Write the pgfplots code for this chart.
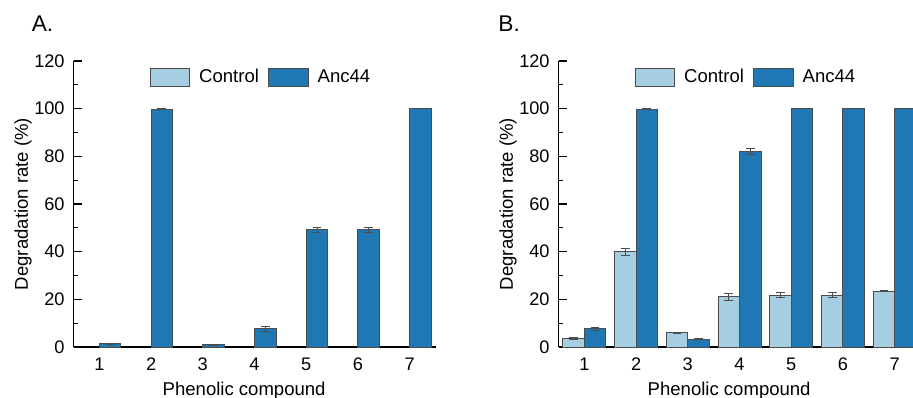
\documentclass[border=0pt]{standalone}
\usepackage{fontspec}
\setmainfont{Liberation Sans}
\usepackage{pgfplots}
\pgfplotsset{compat=1.18}
\definecolor{ctrl}{HTML}{A6CEE3}
\definecolor{anc}{HTML}{1F77B4}
\pgfplotsset{
  panel/.style={
    scale only axis, width=199.1pt, height=157.3pt,
    xmin=0.5, xmax=7.5, ymin=0, ymax=120,
    axis x line*=bottom, axis y line*=left,
    axis line style={black, line width=0.7pt},
    xtick={1,...,7}, xtick style={draw=none},
    ytick={0,20,...,120}, minor y tick num=1,
    major tick length=4.4pt, minor tick length=2.2pt,
    ytick style={black, line width=0.6pt}, tick align=inside,
    font=\fontsize{10.2}{12}\selectfont,
    tick label style={font=\fontsize{10}{11}\selectfont},
    /pgf/number format/assume math mode=true,
    xticklabel style={anchor=north, inner sep=0pt, yshift=-1.4pt},
    yticklabel style={anchor=east, inner sep=0pt, xshift=-4.7pt},
    every axis y label/.style={at={(axis description cs:-0.1396,0.5)}, rotate=90, anchor=center},
    every axis x label/.style={at={(axis description cs:0.4714,-0.168)}, anchor=base},
    xlabel={Phenolic compound},
    ylabel={Degradation rate (\%)},
    ybar, bar width=0.416,
    legend image code/.code={\draw[##1] (0pt,-4.95pt) rectangle (21.8pt,4.95pt);},
    legend style={at={(axis description cs:0.52,0.944)}, anchor=center, draw=none, fill=none,
      legend columns=2, column sep=3pt, inner sep=0pt,
      font=\fontsize{10.2}{12}\selectfont},
  },
  ctrlbar/.style={fill=ctrl, draw=black!70, line width=0.5pt, bar shift=-0.208,
    error bars/.cd, y dir=both, y explicit,
    error bar style={black!70, line width=0.5pt},
    error mark options={rotate=90, mark size=2.4pt, black!70, line width=0.5pt}},
  ancbar/.style={fill=anc, draw=black!70, line width=0.5pt, bar shift=0.208,
    error bars/.cd, y dir=both, y explicit,
    error bar style={black!70, line width=0.5pt},
    error mark options={rotate=90, mark size=2.4pt, black!70, line width=0.5pt}},
}
\begin{document}
\begin{tikzpicture}
\useasboundingbox (0pt,0pt) rectangle (502.15pt,-218.9pt);
\clip (0pt,0pt) rectangle (502.15pt,-218.9pt);
\node[anchor=base west, inner sep=0pt, font=\fontsize{12.5}{14}\selectfont] at (17.3pt,-17.6pt) {A.};
\node[anchor=base west, inner sep=0pt, font=\fontsize{12.5}{14}\selectfont] at (273.9pt,-17.6pt) {B.};
\begin{axis}[panel, at={(40.425pt,-190.85pt)}, anchor=south west]
\addlegendimage{fill=ctrl, draw=black!70, line width=0.5pt}
\addlegendentry{Control}
\addplot[ancbar] coordinates {
 (1,1.4) +- (0,0.2)
 (2,99.7) +- (0,0.2)
 (3,1.0) +- (0,0.2)
 (4,7.6) +- (0,0.9)
 (5,49.2) +- (0,1.0)
 (6,49.2) +- (0,1.0)
 (7,100) +- (0,0)
};
\addlegendentry{Anc44}
\end{axis}
\begin{axis}[panel, at={(307.175pt,-190.85pt)}, anchor=south west]
\addplot[ctrlbar] coordinates {
 (1,3.5) +- (0,0.4)
 (2,40.0) +- (0,1.5)
 (3,6.0) +- (0,0.3)
 (4,21.0) +- (0,1.3)
 (5,21.8) +- (0,1.0)
 (6,21.8) +- (0,1.0)
 (7,23.4) +- (0,0.3)
};
\addlegendentry{Control}
\addplot[ancbar] coordinates {
 (1,7.6) +- (0,0.6)
 (2,99.7) +- (0,0.2)
 (3,3.3) +- (0,0.2)
 (4,81.9) +- (0,1.2)
 (5,100) +- (0,0)
 (6,100) +- (0,0)
 (7,100) +- (0,0)
};
\addlegendentry{Anc44}
\end{axis}
\end{tikzpicture}
\end{document}
